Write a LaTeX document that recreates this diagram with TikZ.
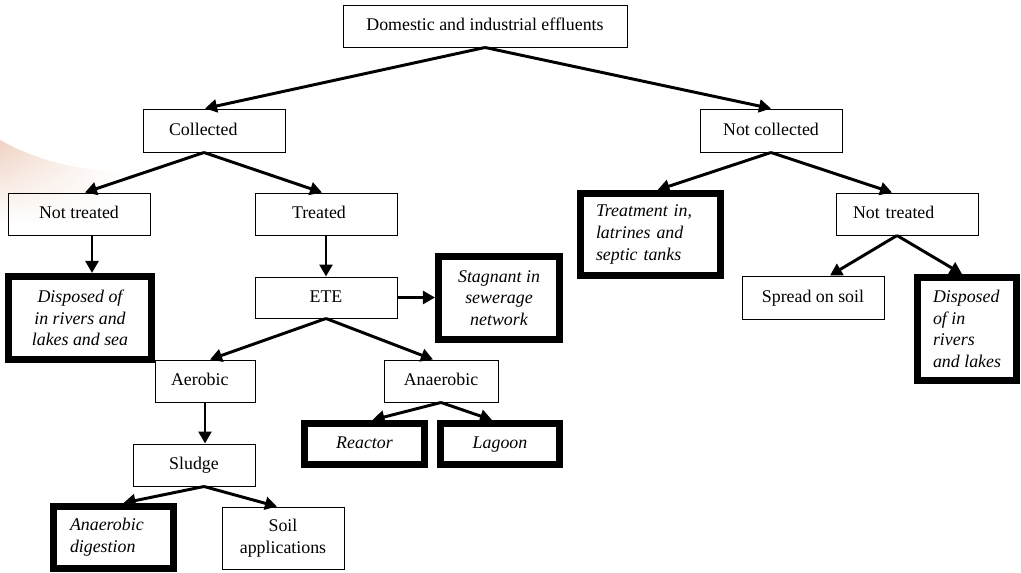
\documentclass[tikz,border=0pt]{standalone}
\usepackage{fontspec}
\setmainfont{Liberation Serif}
\usetikzlibrary{arrows.meta,fadings}
\definecolor{SwooshPeach}{RGB}{238,210,194}

\begin{document}
\begin{tikzpicture}[>={Triangle[length=.3cm,width=.32cm]},
    box/.style={draw,line width=.7pt,inner sep=0pt,minimum width=3.55cm,minimum height=1.05cm,font=\fontsize{12.7}{15.4}\selectfont,align=center},
    fat/.style={box,line width=5pt},
    em/.style={font=\fontsize{12.7}{15.4}\selectfont\itshape},
    one/.style={text height=1.9ex,text depth=.45ex},
    flow/.style={->,line width=2.1pt}]
      \useasboundingbox (0,0) rectangle (25.525,-14.325);
      \shade[left color=SwooshPeach,right color=white,path fading=south] (0,-3.5) .. controls (0.8,-3.95) and (1.8,-4.25) .. (3.0,-4.3) -- (3.0,-5.6) -- (0,-5.6) -- cycle;
      \node[box,one,minimum width=7.1cm] (dom) at (12.125,-0.65) {Domestic and industrial effluents};
      \node[box,one,minimum height=1.075cm,align=left,text width=2.25cm,inner xsep=.65cm] (coll) at (5.35,-3.2625) {Collected};
      \node[box,one,minimum height=1.075cm] (ncoll) at (19.275,-3.2625) {Not collected};
      \node[box,one] (ntL) at (1.975,-5.35) {Not treated};
      \node[box,one,align=left,text width=1.7cm,inner xsep=.925cm] (trt) at (8.15,-5.35) {Treated};
      \node[box,one,align=left,text width=2.7cm,inner xsep=.425cm] (ntR) at (22.675,-5.35) {Not treated};
      \node[fat,em,minimum width=3.5cm,minimum height=2.05cm,align=left,text width=2.725cm,inner xsep=.3875cm] (tank) at (16.2625,-5.8625) {Treatment in,\\ latrines and\\ septic tanks};
      \node[fat,em,minimum width=3.575cm,minimum height=2.075cm] (dispL) at (2,-7.95) {Disposed of\\ in rivers and\\ lakes and sea};
      \node[box,one,minimum height=1.025cm] (ete) at (8.15,-7.4375) {ETE};
      \node[fat,em,minimum width=3.025cm,minimum height=2.075cm] (stag) at (12.475,-7.45) {Stagnant in\\ sewerage\\ network};
      \node[box,one,minimum height=1.075cm] (spread) at (20.325,-7.4375) {Spread on soil};
      \node[fat,em,minimum width=2.475cm,minimum height=2.575cm,align=left] (dispR) at (24.175,-8.225) {Disposed\\ of in\\ rivers\\ and lakes};
      \node[box,one,minimum width=2.5cm,align=left,text width=1.7cm,inner xsep=.4cm] (aer) at (5.125,-9.525) {Aerobic};
      \node[box,one,minimum width=2.85cm] (anaer) at (11.025,-9.525) {Anaerobic};
      \node[fat,em,one,minimum width=3cm,minimum height=1.025cm] (reac) at (9.1125,-11.1) {Reactor};
      \node[fat,em,one,minimum width=2.975cm,minimum height=1.025cm] (lag) at (12.5,-11.1) {Lagoon};
      \node[box,one,minimum width=3.05cm] (sludge) at (4.85,-11.625) {Sludge};
      \node[fat,em,minimum width=3cm,minimum height=1.55cm,align=left,text width=2.175cm,inner xsep=.4125cm] (dig) at (2.8375,-13.4375) {Anaerobic\\ digestion};
      \node[box,minimum width=3.05cm,minimum height=1.55cm] (sapp) at (7.075,-13.45) {Soil\\ applications};
      \draw[flow] (dom.south) -- ([xshift=-.225cm]coll.north);
      \draw[flow] (dom.south) -- (ncoll.north);
      \draw[flow] ([xshift=-.25cm]coll.south) -- ([xshift=.15cm]ntL.north);
      \draw[flow] ([xshift=-.25cm]coll.south) -- ([xshift=-.1cm]trt.north);
      \draw[flow] ([xshift=.325cm]ntL.south) -- ([xshift=.3cm]dispL.north);
      \draw[flow] (trt.south) -- (ete.north);
      \draw[flow] (ete.east) -- (ete.east -| stag.west);
      \draw[flow] (ete.south) -- ([xshift=.125cm]aer.north);
      \draw[flow] (ete.south) -- ([xshift=-.2cm]anaer.north);
      \draw[flow] (aer.south) -- (aer.south |- sludge.north);
      \draw[flow] (anaer.south) -- ([xshift=.2cm]reac.north);
      \draw[flow] (anaer.south) -- ([xshift=-.2cm]lag.north);
      \draw[flow] ([xshift=.25cm]sludge.south) -- ([xshift=.25cm]dig.north);
      \draw[flow] ([xshift=.25cm]sludge.south) -- ([xshift=-.15cm]sapp.north);
      \draw[flow] (ncoll.south) -- ([xshift=.175cm]tank.north);
      \draw[flow] (ncoll.south) -- ([xshift=-.375cm]ntR.north);
      \draw[flow] ([xshift=-.25cm]ntR.south) -- ([xshift=.425cm]spread.north);
      \draw[flow] ([xshift=-.25cm]ntR.south) -- ([xshift=-.125cm]dispR.north);
    \end{tikzpicture}
\end{document}
